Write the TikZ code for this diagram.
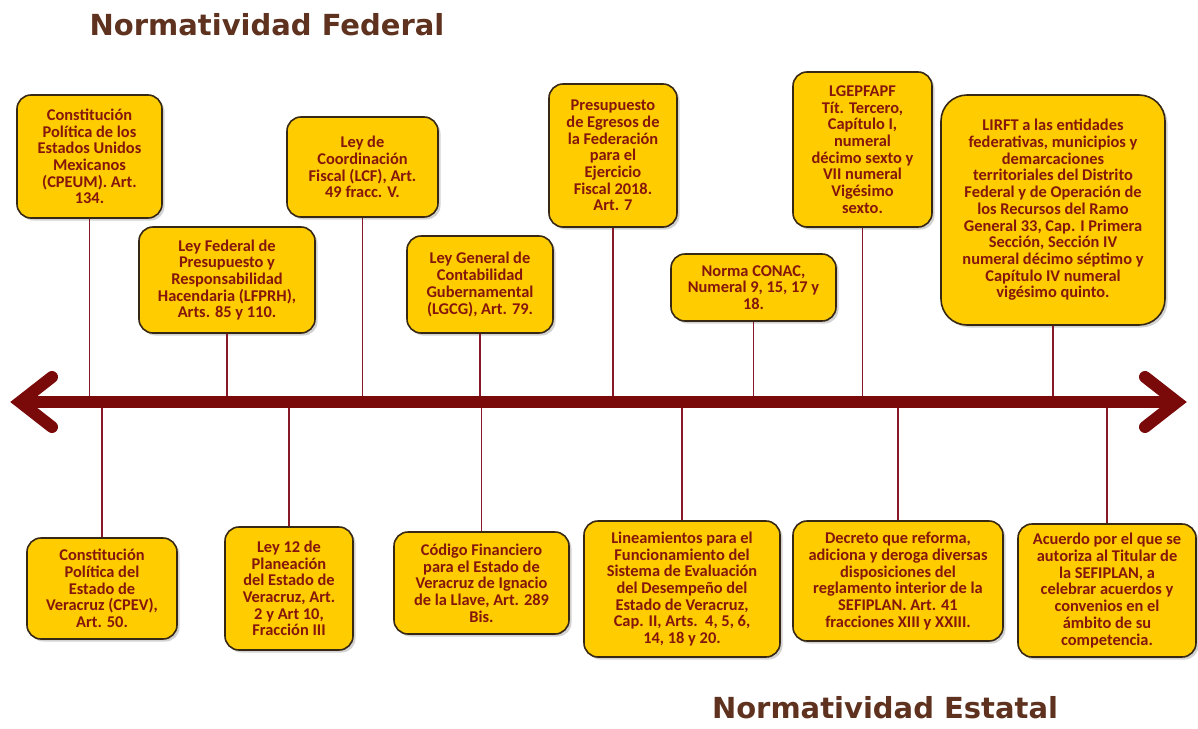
\documentclass[tikz,border=0pt]{standalone}
\usepackage{fontspec}
\setmainfont{Carlito}
\newfontfamily\titlefont{DejaVu Sans}
\usetikzlibrary{shadows}
\definecolor{boxfill}{RGB}{255,204,0}
\definecolor{boxedge}{RGB}{55,40,20}
\definecolor{boxtext}{RGB}{132,22,12}
\definecolor{axiscol}{RGB}{122,10,10}
\definecolor{linkcol}{RGB}{135,25,40}
\definecolor{titlecol}{RGB}{94,50,30}
\tikzset{
  lawbox/.style={draw=boxedge, line width=1.6, fill=boxfill, rounded corners=14,
    align=center, text=boxtext, inner sep=1,
    font=\fontsize{16.4}{16.7}\selectfont\bfseries,
    drop shadow={opacity=0.35, shadow xshift=2.5pt, shadow yshift=-2.5pt}},
  link/.style={draw=linkcol, line width=1.6},
  axisline/.style={draw=axiscol, line width=12},
  chevron/.style={draw=axiscol, line width=12, line cap=round, line join=miter},
  title/.style={text=titlecol, inner sep=0, font=\titlefont\fontsize{29}{32}\selectfont\bfseries}
}
\begin{document}
\begin{tikzpicture}[x=1pt,y=-1pt]
\useasboundingbox (0,0) rectangle (1198,728);
\fill[white] (0,0) rectangle (1198,728);

\node[title] (tfed) at (267,25) {Normatividad Federal};
\node[title] (test) at (885,708) {Normatividad Estatal};

% axis
\coordinate (axL) at (20,402);
\coordinate (axR) at (1177,402);

% federal boxes
\node[lawbox, minimum width=145, minimum height=123] (b1) at (89.5,156.5)
  {Constitución\\Política de los\\Estados Unidos\\Mexicanos\\(CPEUM). Art.\\134.};
\node[lawbox, minimum width=176, minimum height=106] (b2) at (227,280)
  {Ley Federal de\\Presupuesto y\\Responsabilidad\\Hacendaria (LFPRH),\\Arts. 85 y 110.};
\node[lawbox, minimum width=151, minimum height=100] (b3) at (362.5,167)
  {Ley de\\Coordinación\\Fiscal (LCF), Art.\\49 fracc. V.};
\node[lawbox, minimum width=146, minimum height=97] (b4) at (480,284.5)
  {Ley General de\\Contabilidad\\Gubernamental\\(LGCG), Art. 79.};
\node[lawbox, minimum width=128, minimum height=143] (b5) at (613,155.5)
  {Presupuesto\\de Egresos de\\la Federación\\para el\\Ejercicio\\Fiscal 2018.\\Art. 7};
\node[lawbox, minimum width=165, minimum height=67] (b6) at (753.5,287.5)
  {Norma CONAC,\\Numeral 9, 15, 17 y\\18.};
\node[lawbox, minimum width=139, minimum height=155] (b7) at (862.5,149.5)
  {LGEPFAPF\\Tít. Tercero,\\Capítulo I,\\numeral\\décimo sexto y\\VII numeral\\Vigésimo\\sexto.};
\node[lawbox, rounded corners=26, minimum width=224, minimum height=230] (b8) at (1053,210)
  {LIRFT a las entidades\\federativas, municipios y\\demarcaciones\\territoriales del Distrito\\Federal y de Operación de\\los Recursos del Ramo\\General 33, Cap. I Primera\\Sección, Sección IV\\numeral décimo séptimo y\\Capítulo IV numeral\\vigésimo quinto.};

% state boxes
\node[lawbox, minimum width=150, minimum height=101] (b9) at (102,588.5)
  {Constitución\\Política del\\Estado de\\Veracruz (CPEV),\\Art. 50.};
\node[lawbox, minimum width=128, minimum height=123] (b10) at (289,588.5)
  {Ley 12 de\\Planeación\\del Estado de\\Veracruz, Art.\\2 y Art 10,\\Fracción III};
\node[lawbox, minimum width=175, minimum height=102] (b11) at (481.5,583)
  {Código Financiero\\para el Estado de\\Veracruz de Ignacio\\de la Llave, Art. 289\\Bis.};
\node[lawbox, minimum width=196, minimum height=136] (b12) at (682,589)
  {Lineamientos para el\\Funcionamiento del\\Sistema de Evaluación\\del Desempeño del\\Estado de Veracruz,\\Cap. II, Arts.\ \ 4, 5, 6,\\14, 18 y 20.};
\node[lawbox, minimum width=210, minimum height=120] (b13) at (898,581)
  {Decreto que reforma,\\adiciona y deroga diversas\\disposiciones del\\reglamento interior de la\\SEFIPLAN. Art. 41\\fracciones XIII y XXIII.};
\node[lawbox, minimum width=178, minimum height=133] (b14) at (1107,590.5)
  {Acuerdo por el que se\\autoriza al Titular de\\la SEFIPLAN, a\\celebrar acuerdos y\\convenios en el\\ámbito de su\\competencia.};

% connectors
\foreach \n in {b1,b2,b3,b4,b5,b6,b7,b8}
  \draw[link] (\n.south) -- (\n.south |- axL);
\foreach \n in {b9,b10,b11,b12,b13,b14}
  \draw[link] (\n.north) -- (\n.north |- axL);

% axis with chevrons
\draw[axisline] (axL) -- (axR);
\draw[chevron] ([shift={(32,-25)}]axL) -- (axL) -- ([shift={(32,25)}]axL);
\draw[chevron] ([shift={(-32,-25)}]axR) -- (axR) -- ([shift={(-32,25)}]axR);
\end{tikzpicture}
\end{document}
